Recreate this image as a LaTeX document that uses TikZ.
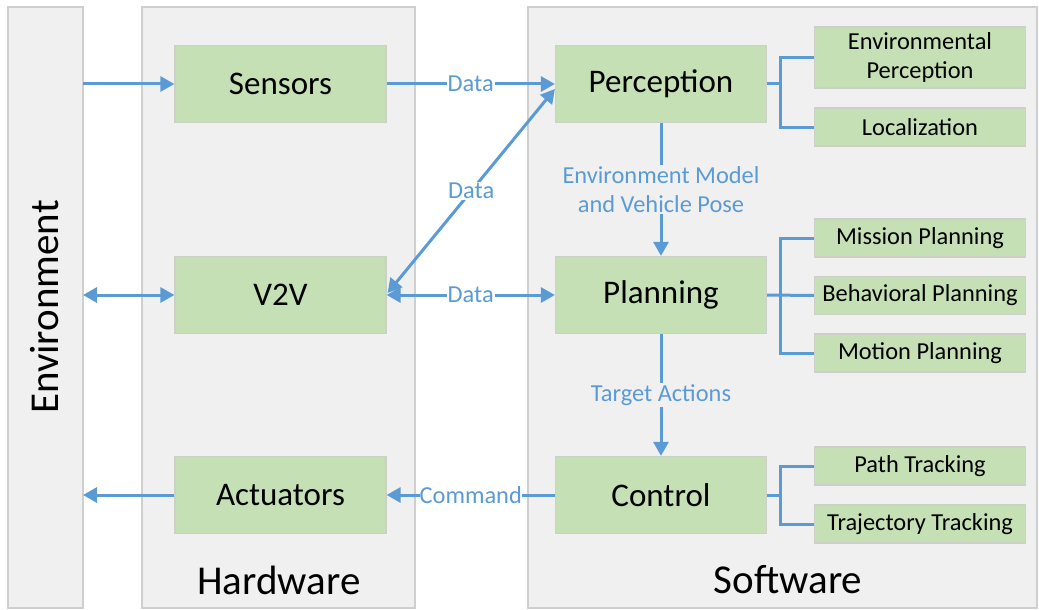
\documentclass[tikz,border=0pt]{standalone}
\usepackage{fontspec}
\setmainfont{Carlito}
\usetikzlibrary{arrows.meta,calc}
\definecolor{panelfill}{HTML}{F0F0F0}
\definecolor{panelline}{HTML}{CFCFCF}
\definecolor{boxfill}{HTML}{C5E0B4}
\definecolor{boxline}{HTML}{CBD0C8}
\definecolor{flow}{HTML}{5B9BD5}
\begin{document}
\begin{tikzpicture}[x=1pt,y=-1pt,
 panel/.style={draw=panelline, line width=1.2pt, fill=panelfill},
 mainbox/.style={draw=boxline, line width=1.2pt, fill=boxfill, minimum width=211pt, minimum height=77pt, font=\fontsize{33}{38}\selectfont, inner sep=0pt},
 subbox/.style={draw=boxline, line width=1.2pt, fill=boxfill, minimum width=211pt, minimum height=38pt, font=\fontsize{24.4}{29}\selectfont, align=center, inner sep=0pt},
 flowline/.style={draw=flow, line width=3pt},
 arr/.style={flowline, -{Triangle[length=14pt,width=15pt]}},
 biarr/.style={flowline, {Triangle[length=14pt,width=15pt]}-{Triangle[length=14pt,width=15pt]}},
 lbl/.style={text=flow, font=\fontsize{24.4}{29}\selectfont, inner sep=1pt},
 title/.style={font=\fontsize{41}{46}\selectfont, inner sep=0pt},
]
\useasboundingbox (0,0) rectangle (1039,610);
% panels
\draw[panel] (8,7) rectangle (83,608);
\draw[panel] (142,7) rectangle (415,608);
\draw[panel] (528,7) rectangle (1037,608);
\node[title, rotate=90] (envtitle) at (45,307) {Environment};
\node[title] (hwtitle) at (279,580) {Hardware};
\node[title] (swtitle) at (788,580) {Software};
\coordinate (envin) at (83,84);
\coordinate (envv2v) at (83,295);
\coordinate (envout) at (83,495);
% main boxes
\node[mainbox] (sensors) at (280.5,84) {Sensors};
\node[mainbox] (v2v) at (280.5,295) {V2V};
\node[mainbox] (act) at (280.5,495) {Actuators};
\node[mainbox] (perc) at (661,84) {Perception};
\node[mainbox] (plan) at (661,295) {Planning};
\node[mainbox] (ctrl) at (661,495) {Control};
% sub boxes
\node[subbox, minimum height=61pt] (envperc) at (920,57.5) {Environmental\\Perception};
\node[subbox] (loc) at (920,127) {Localization};
\node[subbox] (mission) at (920,238) {Mission Planning};
\node[subbox] (behav) at (920,295.5) {Behavioral Planning};
\node[subbox] (motion) at (920,353) {Motion Planning};
\node[subbox] (path) at (920,466) {Path Tracking};
\node[subbox] (traj) at (920,524) {Trajectory Tracking};
% brackets
\draw[flowline] (perc.east) -- (780,84);
\draw[flowline] (envperc.west) -| (780,127) -- (loc.west);
\draw[flowline] (plan.east) -- (behav.west);
\draw[flowline] (mission.west) -| (780,353) -- (motion.west);
\draw[flowline] (ctrl.east) -- (780,495);
\draw[flowline] (path.west) -| (780,524) -- (traj.west);
% environment links
\draw[arr] (envin) -- (sensors.west);
\draw[biarr] (envv2v) -- (v2v.west);
\draw[arr] (act.west) -- (envout);
% data flows
\draw[arr] (sensors.east) -- node[lbl, fill=white] (d1) {Data} (perc.west);
\draw[biarr] ($(v2v.east)+(1,-2)$) -- node[lbl, fill=white, pos=0.5] (d2) {Data} ($(perc.west)+(0,5)$);
\draw[biarr] (v2v.east) -- node[lbl, fill=white] (d3) {Data} (plan.west);
\draw[arr] (perc.south) -- node[lbl, fill=panelfill, align=center] (emvp) {Environment Model\\and Vehicle Pose} (plan.north);
\draw[arr] (plan.south) -- node[lbl, fill=panelfill] (ta) {Target Actions} (ctrl.north);
\draw[arr] (ctrl.west) -- node[lbl, fill=white, inner sep=0pt] (cmd) {Command} (act.east);
\end{tikzpicture}
\end{document}
